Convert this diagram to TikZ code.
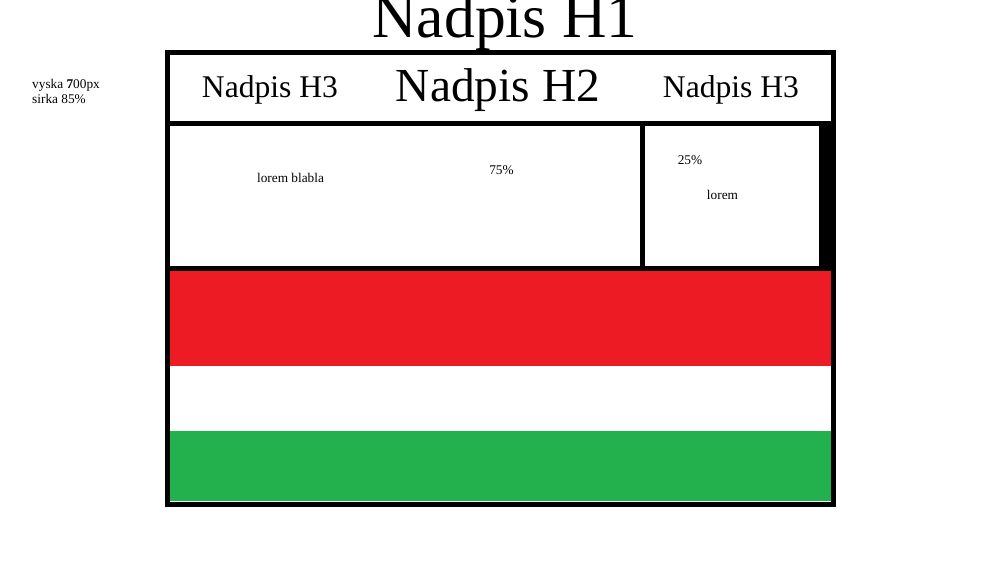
\documentclass[tikz,border=0pt]{standalone}
\usepackage{fontspec}
\setmainfont{Liberation Serif}
\definecolor{flagred}{HTML}{ED1C24}
\definecolor{flaggreen}{HTML}{22B14C}
\tikzset{
  frame/.style={line width=5pt, draw=black},
  txt/.style={anchor=base, inner sep=0pt, text=black},
  small/.style={txt, font=\fontsize{13.3}{15}\selectfont},
}
\begin{document}
\begin{tikzpicture}[x=1pt,y=-1pt]
\useasboundingbox (0,0) rectangle (1001,563);
% flag stripes
\fill[flagred] (170,271) rectangle (831,366);
\fill[white] (170,366) rectangle (831,431);
\fill[flaggreen] (170,431) rectangle (831,501);
% right black bar in the 25% box
\fill[black] (819,122) rectangle (835,270);
% frame and dividers
\draw[frame] (167.5,52.5) rectangle (833.5,504);
\draw[frame] (167.5,123) -- (833.5,123);
\draw[line width=4.5pt] (167.5,268.5) -- (833.5,268.5);
\draw[frame] (642.5,123) -- (642.5,268.5);
% texts
\node[txt, font=\fontsize{61.6}{70}\selectfont] (h1) at (505,37) {Nadpis H1};
\node[txt, font=\fontsize{47.4}{54}\selectfont] (h2) at (498,101) {Nadpis H2};
\node[txt, font=\fontsize{31.6}{36}\selectfont] (h3a) at (270,97) {Nadpis H3};
\node[txt, font=\fontsize{31.6}{36}\selectfont] (h3b) at (731,97) {Nadpis H3};
\node[small, anchor=base west] (vyska) at (32,88) {vyska \textbf{7}00px};
\node[small, anchor=base west] (sirka) at (32,103) {sirka 85\%};
\node[small] (lorem1) at (290.5,182) {lorem blabla};
\node[small] (p75) at (501.5,174) {75\%};
\node[small] (p25) at (690,164) {25\%};
\node[small] (lorem2) at (722.5,199) {lorem};
\end{tikzpicture}
\end{document}
